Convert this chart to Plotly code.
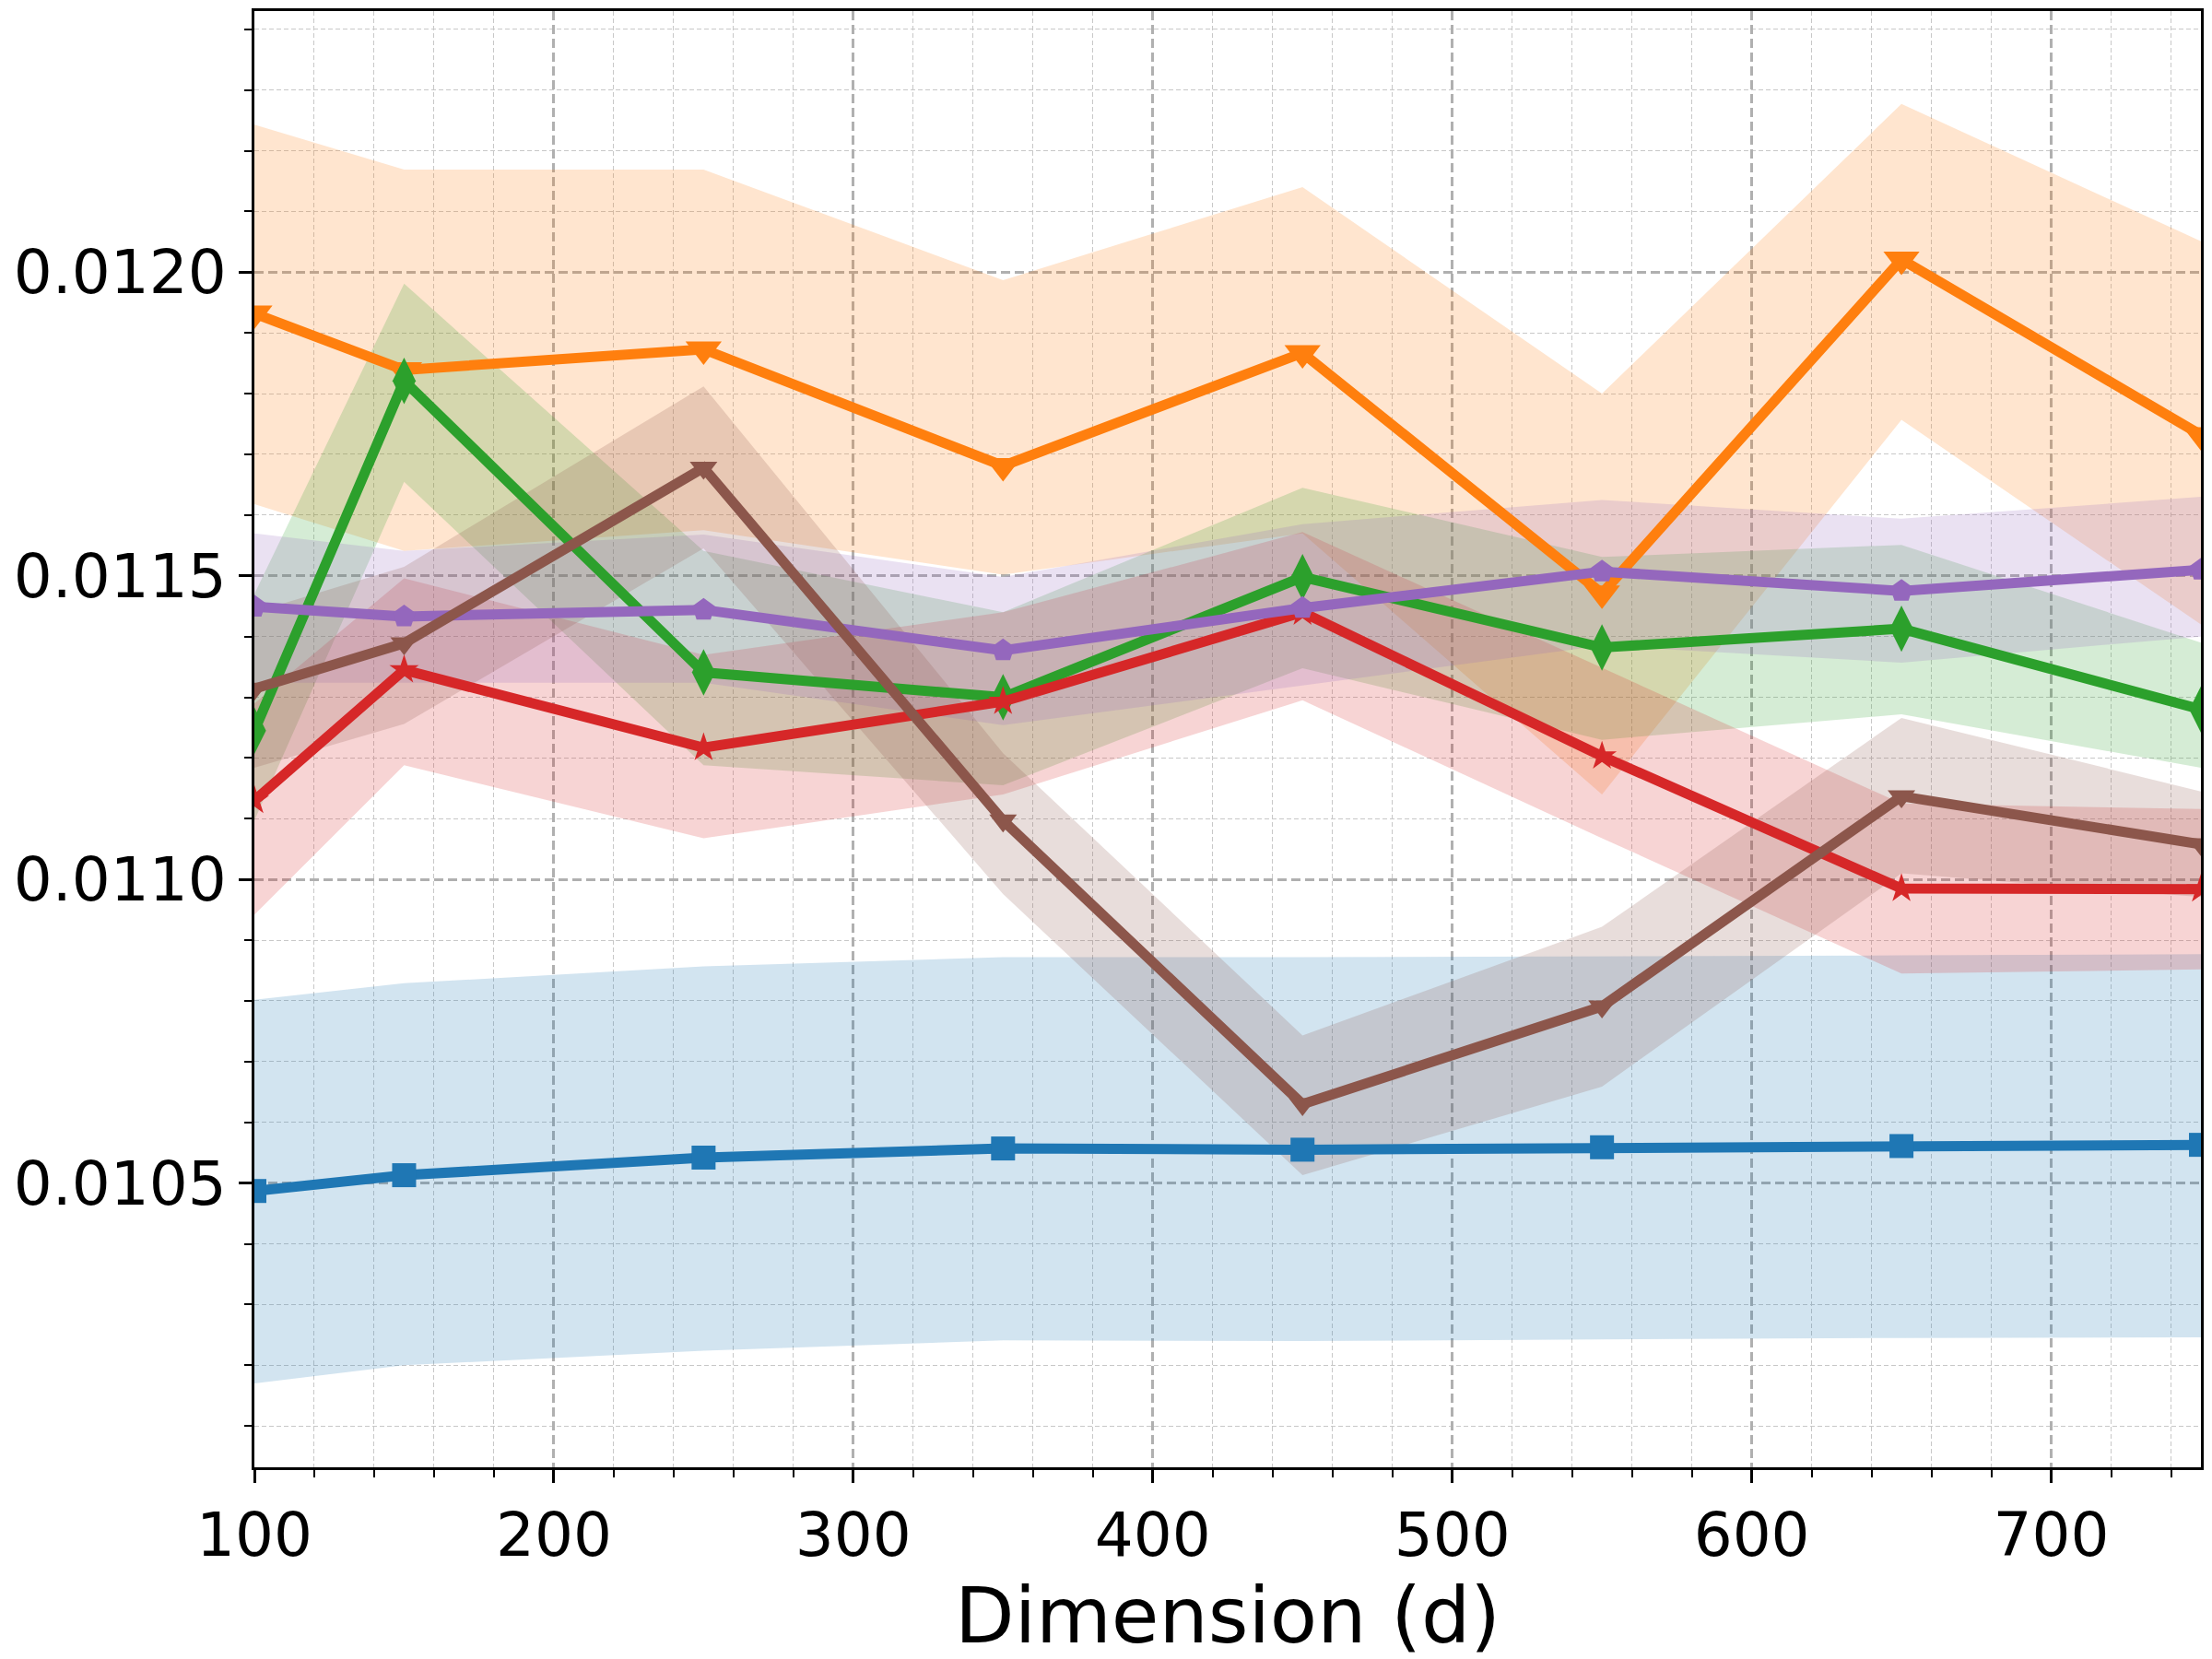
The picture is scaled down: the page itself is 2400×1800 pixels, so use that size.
import plotly.graph_objects as go

dims = [100, 150, 250, 350, 450, 550, 650, 750]

blue_mean = [0.010487, 0.010513, 0.010542, 0.010557, 0.010555, 0.010559, 0.010561, 0.010563]
blue_upper = [0.010802, 0.010829, 0.010857, 0.010872, 0.010872, 0.010873, 0.010875, 0.010877]
blue_lower = [0.010170, 0.010200, 0.010224, 0.010241, 0.010240, 0.010243, 0.010245, 0.010246]

orange_mean = [0.011932, 0.011839, 0.011873, 0.011681, 0.011867, 0.011471, 0.012021, 0.011732]
orange_upper = [0.012243, 0.012169, 0.012169, 0.011987, 0.012140, 0.011800, 0.012277, 0.012051]
orange_lower = [0.011618, 0.011541, 0.011575, 0.011502, 0.011570, 0.011140, 0.011757, 0.011420]

green_mean = [0.011245, 0.011821, 0.011341, 0.011300, 0.011498, 0.011382, 0.011413, 0.011280]
green_upper = [0.011470, 0.011981, 0.011541, 0.011440, 0.011645, 0.011531, 0.011551, 0.011390]
green_lower = [0.011097, 0.011655, 0.011188, 0.011155, 0.011348, 0.011230, 0.011272, 0.011184]

red_mean = [0.011130, 0.011345, 0.011217, 0.011293, 0.011440, 0.011203, 0.010985, 0.010984]
red_upper = [0.011290, 0.011496, 0.011370, 0.011440, 0.011572, 0.011348, 0.011125, 0.011116]
red_lower = [0.010942, 0.011188, 0.011068, 0.011140, 0.011295, 0.011068, 0.010845, 0.010852]

purple_mean = [0.011449, 0.011433, 0.011444, 0.011377, 0.011447, 0.011507, 0.011475, 0.011510]
purple_upper = [0.011570, 0.011541, 0.011568, 0.011498, 0.011585, 0.011625, 0.011594, 0.011630]
purple_lower = [0.011324, 0.011324, 0.011324, 0.011254, 0.011320, 0.011385, 0.011357, 0.011400]

brown_mean = [0.011314, 0.011389, 0.011678, 0.011097, 0.010630, 0.010791, 0.011137, 0.011058]
brown_upper = [0.011440, 0.011515, 0.011812, 0.011208, 0.010743, 0.010922, 0.011266, 0.011145]
brown_lower = [0.011184, 0.011256, 0.011545, 0.010976, 0.010513, 0.010659, 0.011010, 0.010971]

series = [
    ("blue", "#1f77b4", (31, 119, 180), "square", 26, blue_mean, blue_upper, blue_lower),
    ("orange", "#ff7f0e", (255, 127, 14), "triangle-down", 34, orange_mean, orange_upper, orange_lower),
    ("green", "#2ca02c", (44, 160, 44), "diamond-tall", 36, green_mean, green_upper, green_lower),
    ("red", "#d62728", (214, 39, 40), "star", 24, red_mean, red_upper, red_lower),
    ("purple", "#9467bd", (148, 103, 189), "pentagon", 26, purple_mean, purple_upper, purple_lower),
    ("brown", "#8c564b", (140, 86, 75), "triangle-down", 26, brown_mean, brown_upper, brown_lower),
]

fig = go.Figure()

for name, col, rgb, sym, msz, m, up, lo in series:
    fig.add_trace(go.Scatter(
        x=dims + dims[::-1], y=up + lo[::-1],
        fill="toself", mode="lines", line=dict(width=0),
        fillcolor="rgba(%d,%d,%d,0.2)" % rgb,
        hoverinfo="skip", showlegend=False,
    ))

for name, col, rgb, sym, msz, m, up, lo in series:
    fig.add_trace(go.Scatter(
        x=dims, y=m, mode="lines+markers", name=name,
        line=dict(color=col, width=11),
        marker=dict(symbol=sym, size=msz, color=col, line=dict(width=0)),
        showlegend=False,
    ))

grid_major = "#b0b0b0"
axis_common = dict(
    showline=True, linecolor="black", linewidth=3, mirror=True,
    ticks="outside", ticklen=14, tickwidth=2.5, tickcolor="black",
    showgrid=True, gridcolor=grid_major, gridwidth=3, griddash="10px,5px",
    zeroline=False, automargin=False,
    tickfont=dict(family="DejaVu Sans", size=66, color="black"),
)

fig.update_xaxes(
    range=[100, 750], tick0=100, dtick=100,
    title=dict(text="Dimension (d)", font=dict(family="DejaVu Sans", size=84, color="black"), standoff=0),
    minor=dict(dtick=20, tick0=100, ticks="outside", ticklen=8, tickwidth=2, tickcolor="black",
               showgrid=True, gridcolor="#c8c8c8", gridwidth=1.2, griddash="5px,3px"),
    **axis_common,
)
fig.update_yaxes(
    range=[0.010032, 0.012430], tick0=0.0105, dtick=0.0005, tickformat=".4f",
    minor=dict(dtick=0.0001, tick0=0.0105, ticks="outside", ticklen=8, tickwidth=2, tickcolor="black",
               showgrid=True, gridcolor="#c8c8c8", gridwidth=1.2, griddash="5px,3px"),
    **axis_common,
)

fig.update_layout(
    width=2400, height=1800,
    margin=dict(l=268, r=20, t=4, b=216),
    paper_bgcolor="white", plot_bgcolor="white",
    font=dict(family="DejaVu Sans", color="black"),
)

fig.write_html("out.html")
